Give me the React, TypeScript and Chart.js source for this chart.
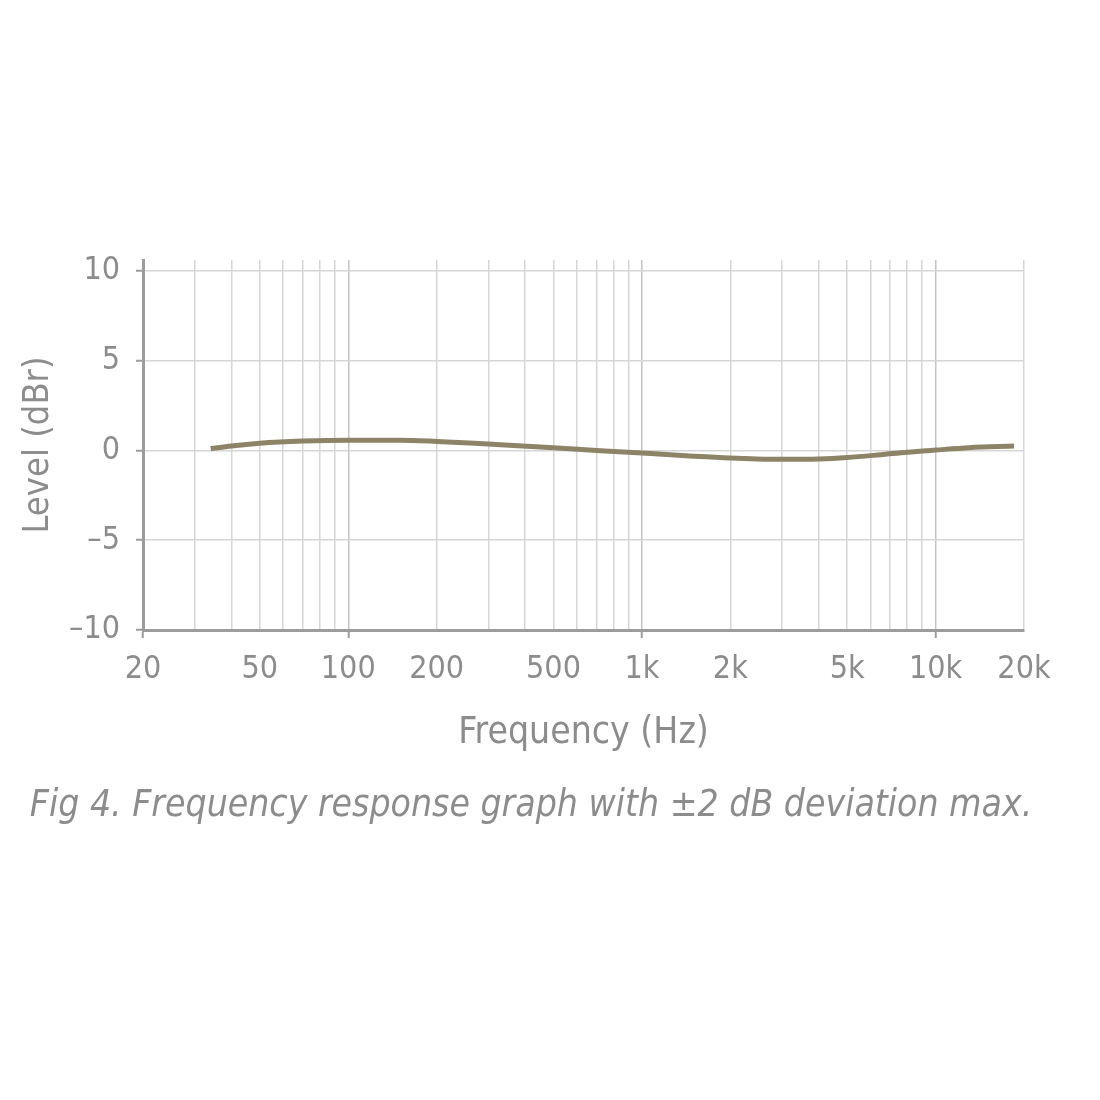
import React, { useEffect, useRef } from "react";
import { Chart, registerables } from "chart.js";

Chart.register(...registerables);

// Measured frequency response (Hz, dBr)
const frequencies = [34, 40, 50, 70, 100, 150, 200, 300, 500, 700, 1000, 1500, 2000, 3000, 4000, 5000, 6500, 8000, 10000, 13000, 18500];
const levels = [0.1, 0.25, 0.4, 0.52, 0.57, 0.57, 0.5, 0.35, 0.15, 0.0, -0.15, -0.32, -0.42, -0.5, -0.48, -0.4, -0.24, -0.1, 0.02, 0.15, 0.24];

// Grid positions along the log frequency axis
const gridFrequencies = [
  20, 30, 40, 50, 60, 70, 80, 90,
  100, 200, 300, 400, 500, 600, 700, 800, 900,
  1000, 2000, 3000, 4000, 5000, 6000, 7000, 8000, 9000,
  10000, 20000,
];
const labelledFrequencies = [20, 50, 100, 200, 500, 1000, 2000, 5000, 10000, 20000];
const tickMarkFrequencies = [20, 100, 1000, 10000];
const levelTicks = [-10, -5, 0, 5, 10];
const caption = "Fig 4. Frequency response graph with ±2 dB deviation max.";

const TEXT = "#8c8c8c";
const GRID = "#d6d6d6";
const AXIS = "#9c9c9c";
const CURVE = "#8d8467";
const FONT = "'Liberation Sans Narrow', 'DejaVu Sans Condensed', 'Noto Sans', sans-serif";

function freqLabel(v: number): string {
  return v >= 1000 ? `${v / 1000}k` : `${v}`;
}

// Figure caption drawn centred on the page below the axis title
const captionPlugin = {
  id: "figureCaption",
  afterDraw(chart: any) {
    const ctx = chart.ctx;
    ctx.save();
    ctx.fillStyle = TEXT;
    ctx.font = `italic 37px ${FONT}`;
    ctx.textAlign = "center";
    ctx.textBaseline = "middle";
    ctx.fillText(caption, 531, 806);
    ctx.restore();
  },
};

export default function App() {
  const canvasRef = useRef<HTMLCanvasElement | null>(null);

  useEffect(() => {
    if (!canvasRef.current) return;
    const chart = new Chart(canvasRef.current, {
      type: "line",
      data: {
        datasets: [
          {
            data: frequencies.map((f, i) => ({ x: f, y: levels[i] })),
            borderColor: CURVE,
            borderWidth: 5,
            pointRadius: 0,
            cubicInterpolationMode: "monotone",
            fill: false,
          },
        ],
      },
      plugins: [captionPlugin],
      options: {
        animation: false,
        responsive: false,
        layout: { padding: { top: 260, left: 15, right: 76, bottom: 340 } },
        plugins: {
          legend: { display: false },
          tooltip: { enabled: false },
          title: { display: false },
        },
        scales: {
          x: {
            type: "logarithmic",
            min: 20,
            max: 20000,
            afterBuildTicks: (scale: any) => {
              scale.ticks = gridFrequencies.map((v) => ({ value: v }));
            },
            afterFit: (scale: any) => {
              scale.height = 130;
            },
            ticks: {
              autoSkip: false,
              maxRotation: 0,
              minRotation: 0,
              padding: 12,
              color: TEXT,
              font: { family: FONT, size: 32 },
              callback: (v: any) => (labelledFrequencies.includes(Number(v)) ? freqLabel(Number(v)) : ""),
            },
            grid: {
              color: (ctx: any) => {
                const v = ctx.tick ? ctx.tick.value : 0;
                return v === 100 || v === 1000 || v === 10000 ? "#c4c4c4" : GRID;
              },
              lineWidth: 1.5,
              tickLength: 8,
              tickColor: (ctx: any) => (ctx.tick && tickMarkFrequencies.includes(ctx.tick.value) ? AXIS : "rgba(0,0,0,0)"),
              tickWidth: 2,
            },
            border: { display: true, color: AXIS, width: 3 },
            title: {
              display: true,
              text: "Frequency (Hz)",
              color: TEXT,
              font: { family: FONT, size: 37 },
              padding: { top: 0, bottom: 4 },
            },
          },
          y: {
            type: "linear",
            min: -10,
            max: 10.6,
            afterBuildTicks: (scale: any) => {
              scale.ticks = levelTicks.map((v) => ({ value: v }));
            },
            afterFit: (scale: any) => {
              scale.width = 128;
            },
            ticks: {
              padding: 16,
              color: TEXT,
              font: { family: FONT, size: 32 },
              callback: (v: any) => (Number(v) < 0 ? `\u2013${Math.abs(Number(v))}` : `${v}`),
            },
            grid: {
              color: GRID,
              lineWidth: 1.5,
              tickLength: 7,
              tickColor: AXIS,
              tickWidth: 2,
            },
            border: { display: true, color: AXIS, width: 3 },
            title: {
              display: true,
              text: "Level (dBr)",
              color: TEXT,
              font: { family: FONT, size: 36 },
              padding: { top: 2, bottom: 0 },
            },
          },
        },
      },
    } as any);
    return () => chart.destroy();
  }, []);

  return (
    <div style={{ position: "absolute", left: 0, top: 0, width: 1100, height: 1100, background: "#ffffff" }}>
      <canvas ref={canvasRef} width={1100} height={1100} style={{ width: 1100, height: 1100, display: "block" }} />
    </div>
  );
}
